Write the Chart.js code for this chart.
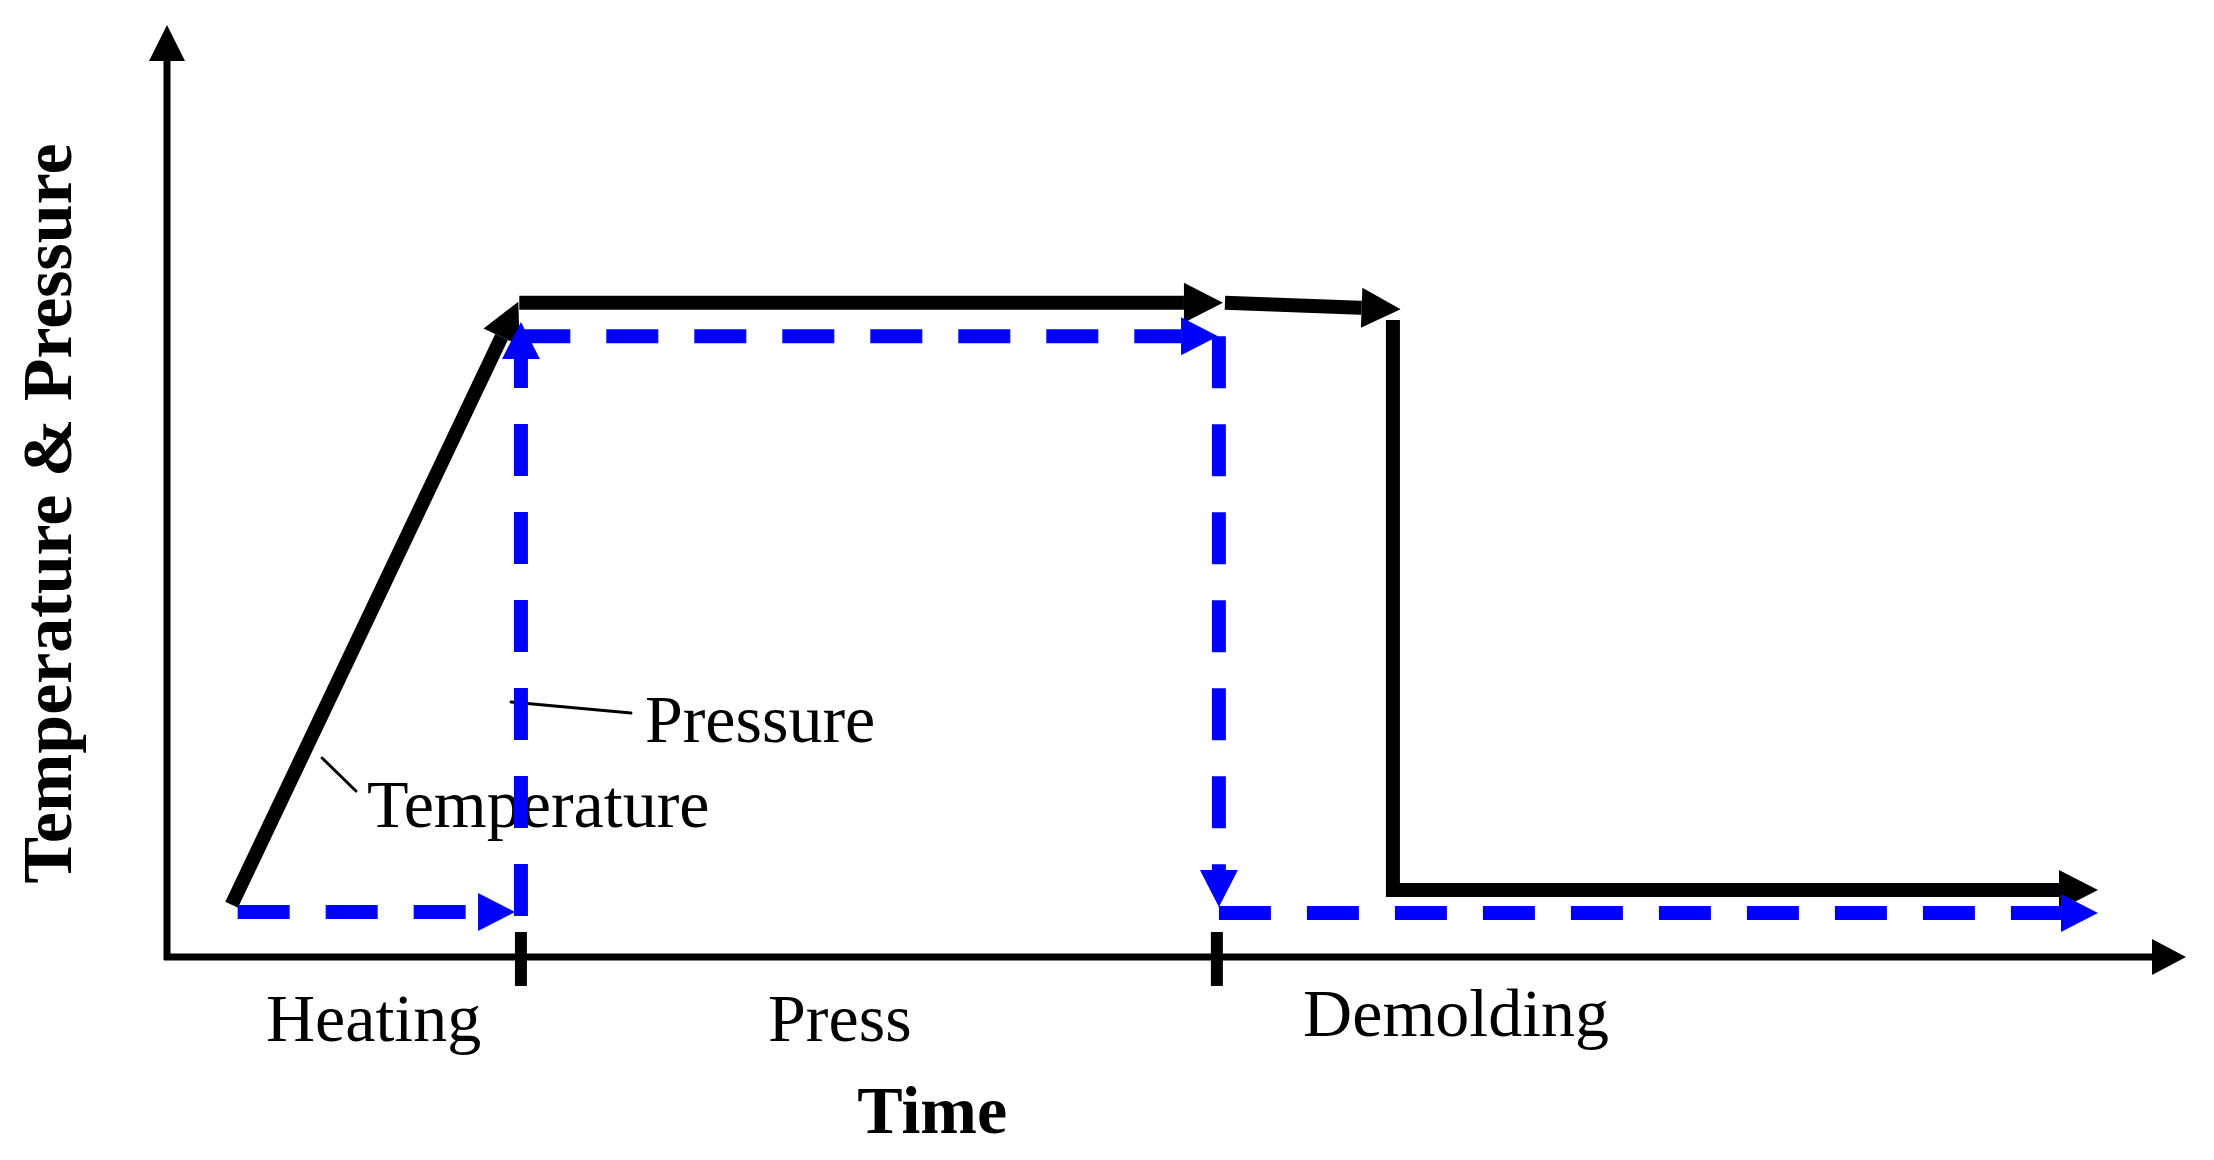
<!DOCTYPE html>
<html>
<head>
<meta charset="utf-8">
<title>Temperature & Pressure</title>
<script src="https://cdn.jsdelivr.net/npm/chart.js@4.4.1/dist/chart.umd.min.js"></script>
<style>
    body { margin: 0; background: #fff; }
    #wrap { width: 2214px; height: 1160px; position: relative; }
</style>
</head>
<body>
<div id="wrap"><canvas id="processChart"></canvas></div>
<script>
// Eixo do tempo (0-100) e nível de temperatura / pressão (0-100), esquemático
const phaseLabels = ['Heating', 'Press', 'Demolding'];
const phaseBounds = [17.53, 52.0]; // fim do aquecimento, fim da prensagem

// Temperatura: quatro trechos, cada um termina numa seta
const tempHeat = [{ x: 3.2, y: 5.6 }, { x: 17.4, y: 70.3 }];
const tempHold = [{ x: 17.45, y: 70.2 }, { x: 52.3, y: 70.2 }];
const tempShift = [{ x: 52.4, y: 70.2 }, { x: 61.1, y: 69.5 }];
const tempCool = [{ x: 60.72, y: 68.35 }, { x: 60.72, y: 7.2 }, { x: 95.64, y: 7.2 }];

// Pressão: cinco trechos tracejados
const presLow = [{ x: 3.5, y: 4.83 }, { x: 17.24, y: 4.83 }];
const presRise = [{ x: 17.53, y: 4.4 }, { x: 17.53, y: 68.13 }];
const presHold = [{ x: 17.4, y: 66.6 }, { x: 52.06, y: 66.6 }];
const presDrop = [{ x: 52.1, y: 66.6 }, { x: 52.1, y: 5.36 }];
const presEnd = [{ x: 52.1, y: 4.72 }, { x: 95.64, y: 4.72 }];

const SERIF = '"Liberation Serif", "Times New Roman", serif';
const BLUE = '#0000ff';

function tempSet(data) {
    return {
        data: data,
        borderColor: '#000',
        borderWidth: 14,
        borderCapStyle: 'butt',
        borderJoinStyle: 'miter',
        arrow: { len: 39, half: 20 }
    };
}

function presSet(data) {
    return {
        data: data,
        borderColor: BLUE,
        borderWidth: 14,
        borderDash: [52, 36],
        borderCapStyle: 'butt',
        arrow: { len: 37, half: 19 }
    };
}

// geometria da seta no fim de um dataset
function arrowGeom(chart, i) {
    const pts = chart.getDatasetMeta(i).data;
    const a = pts[pts.length - 2], b = pts[pts.length - 1];
    const L = Math.hypot(b.x - a.x, b.y - a.y);
    const ux = (b.x - a.x) / L, uy = (b.y - a.y) / L;
    return { tx: b.x, ty: b.y, ux: ux, uy: uy, nx: -uy, ny: ux };
}

function triangle(ctx, tx, ty, ux, uy, len, half, color) {
    const bx = tx - ux * len, by = ty - uy * len;
    ctx.beginPath();
    ctx.moveTo(tx, ty);
    ctx.lineTo(bx - uy * half, by + ux * half);
    ctx.lineTo(bx + uy * half, by - ux * half);
    ctx.closePath();
    ctx.fillStyle = color;
    ctx.fill();
}

const arrowPlugin = {
    id: 'arrows',
    beforeDatasetDraw(chart, args) {
        const ds = chart.data.datasets[args.index];
        if (!ds.arrow) return;
        const g = arrowGeom(chart, args.index);
        const ctx = chart.ctx;
        const bx = g.tx - g.ux * ds.arrow.len, by = g.ty - g.uy * ds.arrow.len;
        // corta a linha a partir da base da seta
        ctx.save();
        ctx.beginPath();
        ctx.rect(0, 0, chart.width, chart.height);
        ctx.moveTo(bx + g.nx * 40, by + g.ny * 40);
        ctx.lineTo(bx - g.nx * 40, by - g.ny * 40);
        ctx.lineTo(bx - g.nx * 40 + g.ux * 80, by - g.ny * 40 + g.uy * 80);
        ctx.lineTo(bx + g.nx * 40 + g.ux * 80, by + g.ny * 40 + g.uy * 80);
        ctx.closePath();
        ctx.clip('evenodd');
    },
    afterDatasetDraw(chart, args) {
        const ds = chart.data.datasets[args.index];
        if (!ds.arrow) return;
        chart.ctx.restore();
        const g = arrowGeom(chart, args.index);
        triangle(chart.ctx, g.tx, g.ty, g.ux, g.uy, ds.arrow.len, ds.arrow.half, ds.borderColor);
    }
};

// eixos com setas, marcas das fases e textos
const decorPlugin = {
    id: 'decor',
    beforeDatasetsDraw(chart) {
        const ctx = chart.ctx;
        const xs = chart.scales.x, ys = chart.scales.y;
        const x0 = xs.getPixelForValue(0), y0 = ys.getPixelForValue(0);
        const xEnd = xs.getPixelForValue(100), yEnd = ys.getPixelForValue(100);

        ctx.save();
        ctx.strokeStyle = '#000';
        ctx.lineWidth = 7;
        ctx.beginPath();
        ctx.moveTo(x0, y0 + 3);
        ctx.lineTo(x0, yEnd + 30);
        ctx.moveTo(x0 - 3, y0);
        ctx.lineTo(xEnd - 30, y0);
        ctx.stroke();
        triangle(ctx, x0, yEnd, 0, -1, 36, 18, '#000');
        triangle(ctx, xEnd, y0, 1, 0, 34, 18, '#000');

        ctx.lineWidth = 12;
        ctx.beginPath();
        phaseBounds.forEach(v => {
            const px = xs.getPixelForValue(v);
            ctx.moveTo(px, y0 - 25);
            ctx.lineTo(px, y0 + 29);
        });
        ctx.stroke();

        // linhas de chamada das legendas
        ctx.lineWidth = 3;
        ctx.lineCap = 'round';
        ctx.beginPath();
        ctx.moveTo(xs.getPixelForValue(17.04), ys.getPixelForValue(27.36));
        ctx.lineTo(xs.getPixelForValue(22.98), ys.getPixelForValue(26.18));
        ctx.moveTo(xs.getPixelForValue(7.68), ys.getPixelForValue(21.35));
        ctx.lineTo(xs.getPixelForValue(9.36), ys.getPixelForValue(17.81));
        ctx.stroke();

        ctx.fillStyle = '#000';
        ctx.textBaseline = 'alphabetic';
        ctx.textAlign = 'left';
        ctx.font = '68px ' + SERIF;
        ctx.fillText('Pressure', xs.getPixelForValue(23.67), ys.getPixelForValue(23.07));
        ctx.fillText('Temperature', xs.getPixelForValue(9.9), ys.getPixelForValue(13.95));

        const phaseX = [4.9, 29.77, 56.27];
        const phaseDy = [84, 84, 79];
        phaseLabels.forEach((t, i) => {
            ctx.fillText(t, xs.getPixelForValue(phaseX[i]), y0 + phaseDy[i]);
        });

        ctx.font = 'bold 68px ' + SERIF;
        ctx.textAlign = 'center';
        ctx.fillText('Time', xs.getPixelForValue(37.9), y0 + 176);

        ctx.font = 'bold 70px ' + SERIF;
        ctx.translate(71, ys.getPixelForValue(47.6));
        ctx.rotate(-Math.PI / 2);
        ctx.fillText('Temperature & Pressure', 0, 0);
        ctx.restore();
    }
};

const ctx = document.getElementById('processChart').getContext('2d');

const config = {
    type: 'scatter',
    data: {
        datasets: [
            presSet(presLow),
            presSet(presRise),
            presSet(presHold),
            presSet(presDrop),
            presSet(presEnd),
            tempSet(tempHeat),
            tempSet(tempHold),
            tempSet(tempShift),
            tempSet(tempCool)
        ].map(d => Object.assign(d, { showLine: true, pointRadius: 0, tension: 0, clip: false }))
    },
    options: {
        responsive: true,
        maintainAspectRatio: false,
        animation: false,
        events: [],
        layout: { padding: { left: 167, right: 28, top: 25, bottom: 203 } },
        plugins: {
            legend: { display: false },
            tooltip: { enabled: false }
        },
        scales: {
            x: { type: 'linear', min: 0, max: 100, display: false },
            y: { type: 'linear', min: 0, max: 100, display: false }
        }
    },
    plugins: [decorPlugin, arrowPlugin]
};

const processChart = new Chart(ctx, config);
</script>
</body>
</html>
